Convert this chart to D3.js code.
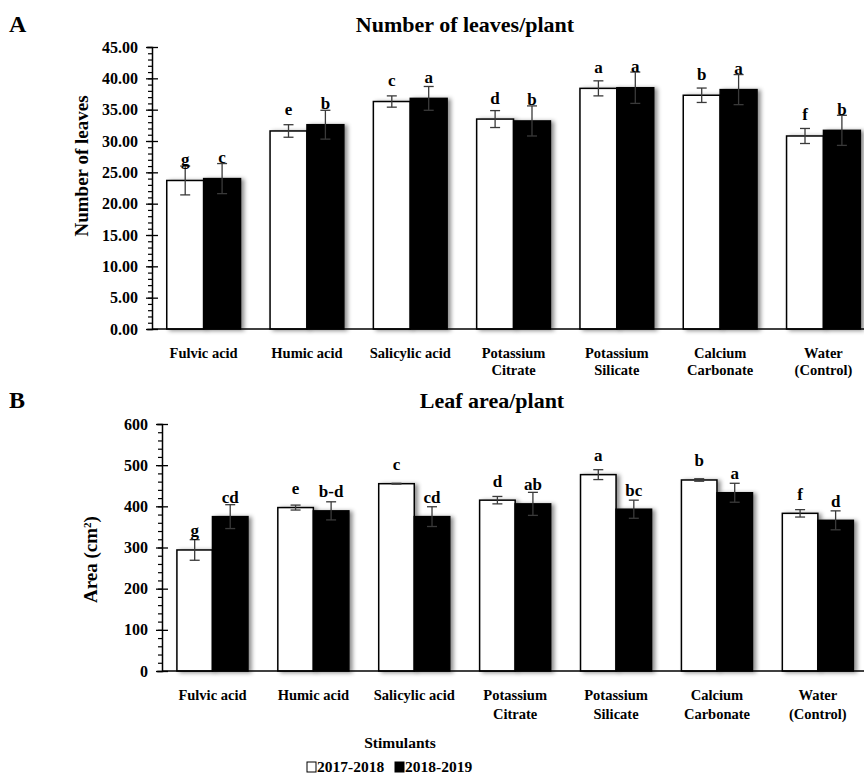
<!DOCTYPE html>
<html>
<head>
<meta charset="utf-8">
<script src="https://cdn.jsdelivr.net/npm/d3@7"></script>
<style>
  body { margin: 0; background: #fff; }
  text { font-family: "Liberation Serif", "Times New Roman", serif; font-weight: bold; fill: #000; }
</style>
</head>
<body>
<div id="paper"></div>
<script>
// leaves & leaf area per stimulant, two seasons

const categories = ["Fulvic acid", "Humic acid", "Salicylic acid", "Potassium Citrate",
  "Potassium Silicate", "Calcium Carbonate", "Water (Control)"];
const labelLines = [["Fulvic acid"], ["Humic acid"], ["Salicylic acid"], ["Potassium", "Citrate"],
  ["Potassium", "Silicate"], ["Calcium", "Carbonate"], ["Water", "(Control)"]];
const seasons = ["2017-2018", "2018-2019"];

const leaves2017 = [23.7, 31.6, 36.3, 33.5, 38.4, 37.3, 30.8];
const leaves2018 = [24.0, 32.6, 36.8, 33.2, 38.5, 38.2, 31.7];
const leavesErr2017 = [2.3, 1.0, 0.9, 1.35, 1.2, 1.15, 1.2];
const leavesErr2018 = [2.4, 2.3, 1.9, 2.4, 2.5, 2.4, 2.4];
const leavesLet2017 = ["g", "e", "c", "d", "a", "b", "f"];
const leavesLet2018 = ["c", "b", "a", "b", "a", "a", "b"];
const leavesTicks = [0, 5, 10, 15, 20, 25, 30, 35, 40, 45];

const area2017 = [294, 397, 455, 415, 477, 464, 383];
const area2018 = [375, 389, 375, 406, 393, 433, 366];
const areaErr2017 = [25, 6, 1, 9, 12, 3, 9];
const areaErr2018 = [29, 22, 24, 28, 22, 23, 23];
const areaLet2017 = ["g", "e", "c", "d", "a", "b", "f"];
const areaLet2018 = ["cd", "b-d", "cd", "ab", "bc", "a", "d"];
const areaTicks = [0, 100, 200, 300, 400, 500, 600];

const W = 864, H = 780;
const fills = { "2017-2018": "#fff", "2018-2019": "#000" };

const svg = d3.select("#paper").append("svg")
  .attr("width", W).attr("height", H)
  .style("background-color", "#fff");

const defs = svg.append("defs");
defs.append("filter").attr("id", "shadow")
  .attr("x", "-20%").attr("y", "-5%").attr("width", "150%").attr("height", "115%")
  .append("feDropShadow")
  .attr("dx", 3).attr("dy", 1).attr("stdDeviation", 2)
  .attr("flood-color", "#000").attr("flood-opacity", 0.45);

function panel(cfg) {
  const g = svg.append("g");
  const y = d3.scaleLinear().domain(cfg.domain).range([cfg.bottom, cfg.top]);
  const x0 = d3.scaleBand().domain(categories).range([cfg.left, cfg.left + 7 * cfg.step]);
  const x1 = d3.scaleBand().domain(seasons).range([0, x0.bandwidth()])
    .paddingInner(0).paddingOuter(cfg.pad);

  const rows = [];
  categories.forEach((c, i) => {
    rows.push({ cat: c, s: seasons[0], v: cfg.v1[i], e: cfg.e1[i], l: cfg.l1[i] });
    rows.push({ cat: c, s: seasons[1], v: cfg.v2[i], e: cfg.e2[i], l: cfg.l2[i] });
  });

  // bars
  g.append("g").selectAll("rect").data(rows).join("rect")
    .attr("x", d => x0(d.cat) + x1(d.s))
    .attr("y", d => y(d.v))
    .attr("width", x1.bandwidth())
    .attr("height", d => y(0) - y(d.v))
    .attr("fill", d => fills[d.s])
    .attr("stroke", "#000").attr("stroke-width", 1.5)
    .attr("filter", "url(#shadow)");

  // error bars
  const eb = g.append("g").attr("stroke", "#3a3a3a").attr("stroke-width", 1.3);
  rows.forEach(d => {
    const cx = x0(d.cat) + x1(d.s) + x1.bandwidth() / 2;
    eb.append("line").attr("x1", cx).attr("x2", cx).attr("y1", y(d.v - d.e)).attr("y2", y(d.v + d.e));
    [d.v - d.e, d.v + d.e].forEach(t => {
      eb.append("line").attr("x1", cx - 5).attr("x2", cx + 5).attr("y1", y(t)).attr("y2", y(t));
    });
  });

  // letters
  g.append("g").selectAll("text").data(rows).join("text")
    .attr("x", d => x0(d.cat) + x1(d.s) + x1.bandwidth() / 2)
    .attr("y", d => y(d.v) - cfg.letterOff)
    .attr("text-anchor", "middle")
    .style("font-size", "17px")
    .text(d => d.l);

  // minor ticks
  g.append("g").attr("transform", `translate(${cfg.left},0)`)
    .call(d3.axisLeft(y)
      .tickValues(d3.range(cfg.domain[0], cfg.domain[1] + 0.001, cfg.minor))
      .tickSize(4).tickFormat(""))
    .call(a => a.select(".domain").remove())
    .selectAll("line").attr("stroke-width", 1.2);

  // y axis
  const ya = g.append("g").attr("transform", `translate(${cfg.left},0)`)
    .call(d3.axisLeft(y).tickValues(cfg.ticks).tickFormat(cfg.fmt).tickSizeOuter(0).tickSize(5).tickPadding(9));
  ya.select(".domain").attr("stroke-width", 1.5);
  ya.selectAll(".tick line").attr("x2", 6).attr("x1", -6).attr("stroke-width", 1.3);
  ya.selectAll(".tick text")
    .style("font-family", "Liberation Serif").style("font-weight", "bold").style("font-size", "16px");

  // x axis
  g.append("line")
    .attr("x1", cfg.left).attr("x2", W)
    .attr("y1", y(0)).attr("y2", y(0))
    .attr("stroke", "#000").attr("stroke-width", 1.6);

  g.append("g").selectAll("text").data(categories).join("text")
    .attr("text-anchor", "middle")
    .style("font-size", "14.5px")
    .each(function (d, i) {
      const t = d3.select(this);
      const cx = x0(d) + x0.bandwidth() / 2;
      labelLines[i].forEach((ln, k) => {
        t.append("tspan").attr("x", cx).attr("y", y(0) + cfg.labelOff + k * cfg.lineH).text(ln);
      });
    });

  // y title
  g.append("text")
    .attr("transform", `translate(${cfg.yTitleX},${(cfg.top + cfg.bottom) / 2 + cfg.yTitleDy}) rotate(-90)`)
    .attr("text-anchor", "middle")
    .style("font-size", "19px")
    .each(function () {
      const t = d3.select(this);
      if (cfg.sup) {
        t.append("tspan").text("Area (cm");
        t.append("tspan").attr("dy", -6).style("font-size", "11px").text("2");
        t.append("tspan").attr("dy", 6).text(")");
      } else {
        t.text(cfg.yTitle);
      }
    });

  // title + panel letter
  svg.append("text").attr("x", cfg.titleX).attr("y", cfg.titleY)
    .attr("text-anchor", "middle").style("font-size", "22px").text(cfg.title);
  svg.append("text").attr("x", 9).attr("y", cfg.titleY)
    .style("font-size", "24px").text(cfg.tag);
}

panel({
  domain: [0, 45], top: 47, bottom: 329, left: 152, step: 103.3, pad: 0.4,
  v1: leaves2017, v2: leaves2018, e1: leavesErr2017, e2: leavesErr2018,
  l1: leavesLet2017, l2: leavesLet2018, ticks: leavesTicks, minor: 1,
  fmt: d3.format(".2f"), letterOff: 15.5, labelOff: 29, lineH: 17,
  yTitle: "Number of leaves", yTitleX: 88, yTitleDy: -22,
  title: "Number of leaves/plant", titleX: 465, titleY: 32, tag: "A"
});

panel({
  domain: [0, 600], top: 424, bottom: 671, left: 162, step: 100.9, pad: 0.42,
  v1: area2017, v2: area2018, e1: areaErr2017, e2: areaErr2018,
  l1: areaLet2017, l2: areaLet2018, ticks: areaTicks, minor: 20,
  fmt: d3.format("d"), letterOff: 13.5, labelOff: 29, lineH: 18.5,
  sup: true, yTitleX: 97, yTitleDy: 12,
  title: "Leaf area/plant", titleX: 492, titleY: 408, tag: "B"
});

// x title
svg.append("text").attr("x", 400).attr("y", 748)
  .attr("text-anchor", "middle").style("font-size", "15.5px").text("Stimulants");

// legend
const leg = svg.append("g").attr("transform", "translate(307,772)");
const li = leg.selectAll("g").data(seasons).join("g")
  .attr("transform", (d, i) => `translate(${i * 88},0)`);
li.append("rect").attr("x", 0).attr("y", -10).attr("width", 9).attr("height", 10)
  .attr("fill", d => fills[d]).attr("stroke", "#000").attr("stroke-width", 1);
li.append("text").attr("x", 10).attr("y", 0)
  .style("font-size", "15.5px").text(d => d);
</script>
</body>
</html>
